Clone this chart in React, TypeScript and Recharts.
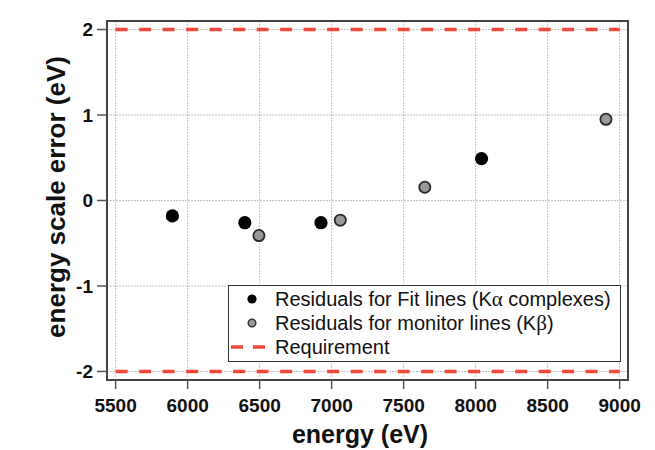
import React from 'react';
import {
  ScatterChart,
  Scatter,
  XAxis,
  YAxis,
  CartesianGrid,
  ReferenceLine,
  ReferenceArea,
  Legend,
  Label,
} from 'recharts';

// ---- data ----
const energyFit = [5894, 6397, 6926, 8041];
const errorFit = [-0.18, -0.26, -0.26, 0.49];
const energyMonitor = [6495, 7060, 7647, 8905];
const errorMonitor = [-0.41, -0.23, 0.155, 0.95];
const requirementLevels = [2, -2];
const requirementRange = [5500, 9000];
const xTicks = [5500, 6000, 6500, 7000, 7500, 8000, 8500, 9000];
const yTicks = [-2, -1, 0, 1, 2];
const xDomain = [5440, 9058];
const yDomain = [-2.1, 2.1];
const fitName = 'Residuals for Fit lines (K';
const fitGreek = 'α';
const fitTail = ' complexes)';
const monitorName = 'Residuals for monitor lines (K';
const monitorGreek = 'β';
const monitorTail = ')';
const requirementName = 'Requirement';
const xTitle = 'energy (eV)';
const yTitle = 'energy scale error (eV)';

const fitData = energyFit.map((e, i) => ({ energy: e, error: errorFit[i] }));
const monitorData = energyMonitor.map((e, i) => ({ energy: e, error: errorMonitor[i] }));

const FONT = '"Liberation Sans", Arial, Helvetica, sans-serif';
const RED = '#f2473a';

const tickStyle = { fontFamily: FONT, fontWeight: 'bold', fontSize: 19, fill: '#111' };

const FitDot = (props: any) => <circle cx={props.cx} cy={props.cy} r={6.6} fill="#000" />;
const MonitorDot = (props: any) => (
  <circle cx={props.cx} cy={props.cy} r={5.6} fill="#9a9a9a" stroke="#2a2a2a" strokeWidth={1.8} />
);

const Row = ({ icon, children }: any) => (
  <div style={{ display: 'flex', alignItems: 'center', height: 24, lineHeight: '24px' }}>
    <div style={{ width: 46, display: 'flex', justifyContent: 'center', alignItems: 'center' }}>{icon}</div>
    <div style={{ whiteSpace: 'nowrap' }}>{children}</div>
  </div>
);

const greek = { fontFamily: '"Liberation Serif", "DejaVu Serif", serif', fontSize: 21 };

const LegendBox = () => (
  <div
    style={{
      border: '1.5px solid #333',
      background: '#fff',
      fontFamily: FONT,
      fontSize: 20,
      color: '#111',
      paddingTop: 1,
      height: 77,
      boxSizing: 'border-box',
      textAlign: 'left',
    }}
  >
    <Row icon={<svg width={12} height={12}><circle cx={6} cy={6} r={4.6} fill="#000" /></svg>}>
      {fitName}
      <span style={greek}>{fitGreek}</span>
      {fitTail}
    </Row>
    <Row
      icon={
        <svg width={12} height={12}>
          <circle cx={6} cy={6} r={3.8} fill="#9a9a9a" stroke="#333" strokeWidth={1.5} />
        </svg>
      }
    >
      {monitorName}
      <span style={greek}>{monitorGreek}</span>
      {monitorTail}
    </Row>
    <Row
      icon={
        <svg width={36} height={6} style={{ marginLeft: -6 }}>
          <line x1={0} y1={3} x2={36} y2={3} stroke={RED} strokeWidth={3.5} strokeDasharray="12 10" />
        </svg>
      }
    >
      {requirementName}
    </Row>
  </div>
);

const XTitle = () => (
  <text x={360} y={443} textAnchor="middle" fontFamily={FONT} fontWeight="bold" fontSize={25} fill="#111">
    {xTitle}
  </text>
);

const YTitle = () => (
  <text
    transform="translate(65,197) rotate(-90)"
    textAnchor="middle"
    fontFamily={FONT}
    fontWeight="bold"
    fontSize={26}
    fill="#111"
  >
    {yTitle}
  </text>
);

export default function App() {
  return (
    <div style={{ position: 'absolute', left: 0, top: 0, width: 655, height: 450, background: '#fff' }}>
      <ScatterChart width={655} height={450} margin={{ top: 21, right: 27, bottom: 0, left: 0 }}>
        <CartesianGrid stroke="#c4c4c4" strokeDasharray="2 1" horizontal vertical />
        <XAxis
          type="number"
          dataKey="energy"
          domain={xDomain}
          ticks={xTicks}
          allowDataOverflow
          height={70}
          tick={tickStyle}
          tickSize={9}
          tickMargin={10}
          tickLine={{ stroke: '#555', strokeWidth: 1.5 }}
          axisLine={false}
        >
          <Label content={<XTitle />} />
        </XAxis>
        <YAxis
          type="number"
          dataKey="error"
          domain={yDomain}
          ticks={yTicks}
          allowDataOverflow
          width={107}
          tick={tickStyle}
          tickSize={10}
          tickMargin={4}
          tickLine={{ stroke: '#555', strokeWidth: 1.5 }}
          axisLine={false}
        >
          <Label content={<YTitle />} />
        </YAxis>
        <ReferenceArea
          x1={xDomain[0]}
          x2={xDomain[1]}
          y1={yDomain[0]}
          y2={yDomain[1]}
          fill="none"
          fillOpacity={0}
          stroke="#444"
          strokeWidth={2}
          ifOverflow="visible"
        />
        {requirementLevels.map((lvl) => (
          <ReferenceLine
            key={lvl}
            segment={[
              { x: requirementRange[0], y: lvl },
              { x: requirementRange[1], y: lvl },
            ]}
            stroke={RED}
            strokeWidth={3.5}
            strokeDasharray="12 11.5"
            ifOverflow="visible"
          />
        ))}
        <Scatter name="fit" data={fitData} shape={<FitDot />} isAnimationActive={false} />
        <Scatter name="monitor" data={monitorData} shape={<MonitorDot />} isAnimationActive={false} />
        <Legend
          layout="vertical"
          align="center"
          verticalAlign="middle"
          content={<LegendBox />}
          wrapperStyle={{ left: 228, top: 285, width: 393, height: 77 }}
        />
      </ScatterChart>
    </div>
  );
}
